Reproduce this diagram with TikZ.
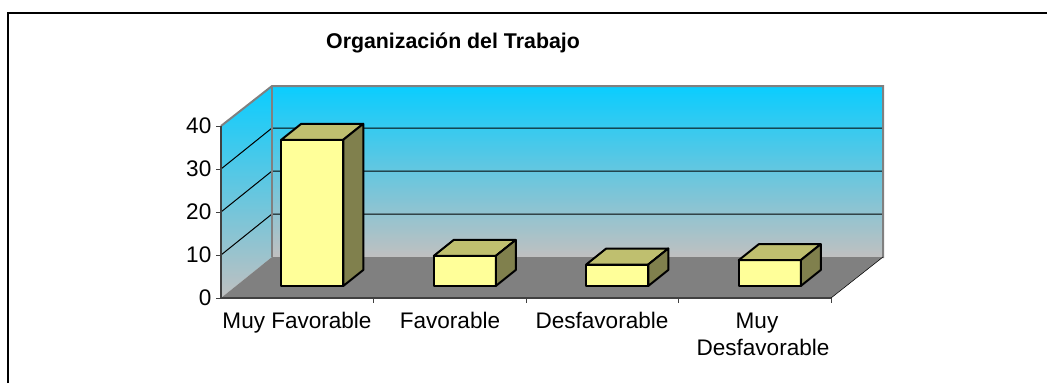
\documentclass[tikz,border=0pt]{standalone}
\usepackage{fontspec}
\setmainfont{Liberation Sans}
\definecolor{wallTop}{RGB}{10,205,255}
\definecolor{wallBot}{RGB}{192,192,192}
\definecolor{floorGray}{RGB}{128,128,128}
\definecolor{edgeGray}{RGB}{128,128,128}
\definecolor{barFront}{RGB}{255,255,153}
\definecolor{barTop}{RGB}{191,191,111}
\definecolor{barSide}{RGB}{128,128,77}
\tikzset{
  axislabel/.style={font=\fontsize{16.9}{20}\selectfont,text=black},
  barface/.style={draw=black,line width=1.5pt,line join=round},
}
\begin{document}
\begin{tikzpicture}[x=0.75pt,y=-0.75pt]
\useasboundingbox (0,0) rectangle (1047,383);
\draw[line width=1.5pt](8,383)--(8,13)--(1047,13);
\node[anchor=base,font=\bfseries\fontsize{16}{19}\selectfont](title) at (453,48){Organización del Trabajo};
% walls and floor
\shade[top color=wallTop,bottom color=wallBot](272,86)rectangle(883,257);
\shade[top color=wallTop,bottom color=wallBot](221,126)--(272,86)--(272,257)--(221,298)--cycle;
\fill[floorGray](221,298)--(831,298)--(883,257)--(272,257)--cycle;
\foreach \v in {10,20,30}
{
    \draw[line width=.75pt](221,{298-4.3*\v})--(272,{257-4.3*\v})--(883,{257-4.3*\v});
}
\draw[edgeGray,line width=1.5pt](221,126)--(272,86)--(883,86)--(883,258);
\draw[edgeGray,line width=1.5pt](272,86)--(272,257);
\draw(831,298)--(883,257);
\draw[line width=1pt,black!75](221,126)--(221,298)--(831,298);
\foreach \v/\vtext in {0/0,1/10,2/20,3/30,4/40}
{
    \draw[black!75](216,{298-43*\v})node[left,axislabel](ytick\v){\vtext}--(221,{298-43*\v});
}
\foreach \x in {1,...,4}
{
    \draw[black!75]({221+152.5*\x},298)--({221+152.5*\x},303);
}
% bars
\foreach \i/\v in {0/34,1/7,2/5,3/6}
{
    \pgfmathsetmacro\xl{221+152.5*(\i+.5)+15-31}
    \pgfmathsetmacro\xr{\xl+62}
    \pgfmathsetmacro\yt{286-4.3*\v}
    \draw[barface,fill=barFront](\xl,286)rectangle(\xr,\yt);
    \draw[barface,fill=barTop](\xl,\yt)--(\xr,\yt)--(\xr+20,\yt-16)--(\xl+20,\yt-16)--cycle;
    \draw[barface,fill=barSide](\xr,286)--(\xr,\yt)--(\xr+20,\yt-16)--(\xr+20,270)--cycle;
}
% category labels
\node[anchor=base,axislabel](cat1) at (297,328){Muy Favorable};
\node[anchor=base,axislabel](cat2) at (450,328){Favorable};
\node[anchor=base,axislabel](cat3) at (602,328){Desfavorable};
\node[anchor=base,axislabel](cat4a) at (757,328){Muy};
\node[anchor=base,axislabel](cat4b) at (763,355){Desfavorable};
\end{tikzpicture}
\end{document}
